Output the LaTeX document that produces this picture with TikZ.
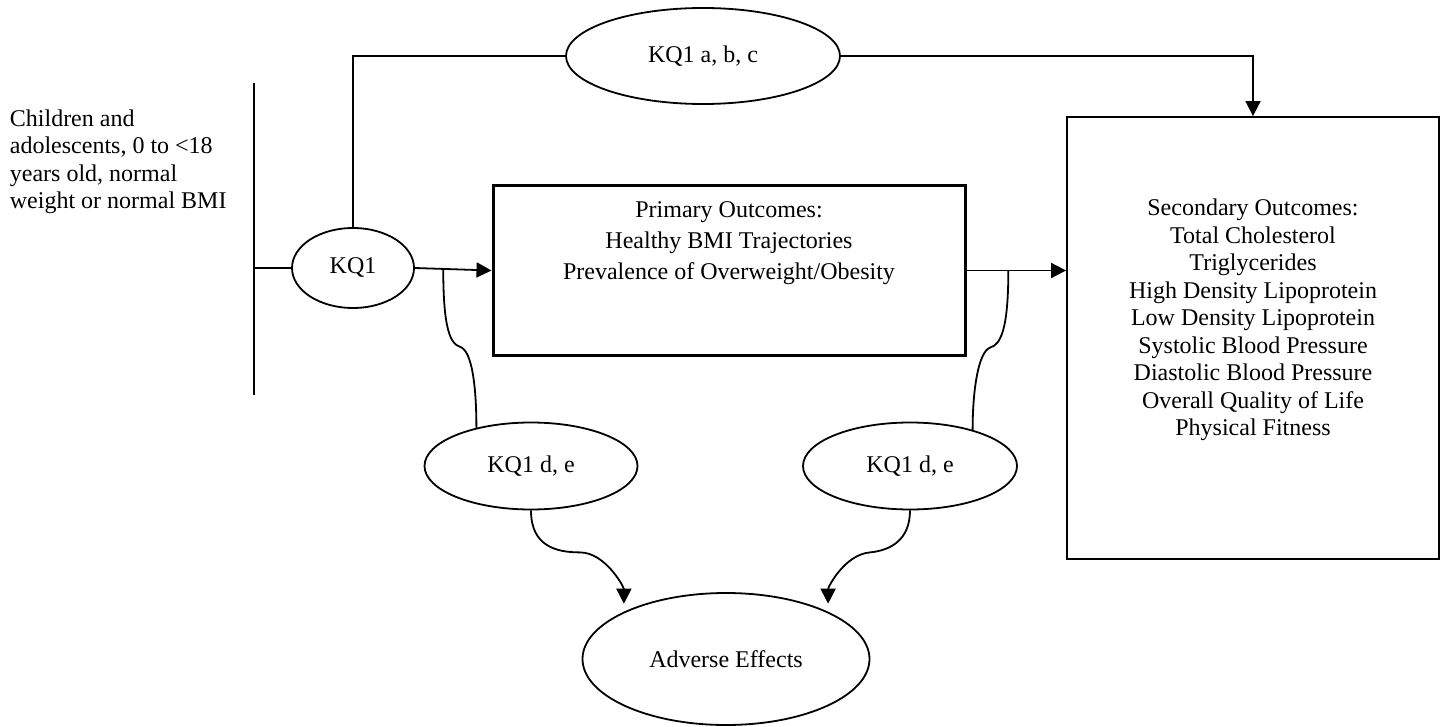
\documentclass[tikz,border=0pt]{standalone}
\usepackage{fontspec}
\setmainfont{Liberation Serif}
\usetikzlibrary{arrows.meta,positioning,calc,shapes.geometric}

\begin{document}
\begin{tikzpicture}[
  x=0.5pt, y=-0.5pt,
  font=\fontsize{12pt}{13.75pt}\selectfont,
  line width=0.9pt,
  oval/.style={draw, ellipse, inner sep=0pt, align=center},
  outbox/.style={draw, rectangle, inner sep=0pt},
  boxtext/.style={align=center, inner sep=0pt},
  arrow/.style={-{Triangle[length=7.5pt, width=7.5pt]}}
]
\useasboundingbox (0,0) rectangle (1445,727);

\node[align=left, anchor=west, inner sep=0pt] (pop) at (9,162) {Children and\\adolescents, 0 to <18\\years old, normal\\weight or normal BMI};
\coordinate (bartop) at (254,83);
\coordinate (barbot) at (254,395);

\node[oval, minimum width=61pt, minimum height=40pt] (kq1) at (353,268) {KQ1};
\node[oval, minimum width=137pt, minimum height=48pt] (kqabc) at (703,56) {KQ1 a, b, c};
\node[outbox, line width=1.5pt, minimum width=236pt, minimum height=84.5pt] (prim) at (729,270.5) {};
\node[boxtext, font=\fontsize{12pt}{15.5pt}\selectfont] (primtxt) at (729,243) {Primary Outcomes:\\Healthy BMI Trajectories\\Prevalence of Overweight/Obesity};
\node[outbox, minimum width=186pt, minimum height=221pt] (sec) at (1253,338) {};
\node[boxtext] (sectxt) at (1253,320) {Secondary Outcomes:\\Total Cholesterol\\Triglycerides\\High Density Lipoprotein\\Low Density Lipoprotein\\Systolic Blood Pressure\\Diastolic Blood Pressure\\Overall Quality of Life\\Physical Fitness};
\node[oval, minimum width=106.5pt, minimum height=43.5pt] (kqdeL) at (531,466) {KQ1 d, e};
\node[oval, minimum width=107pt, minimum height=43.5pt] (kqdeR) at (910,466) {KQ1 d, e};
\node[oval, minimum width=143.5pt, minimum height=66pt] (adv) at (726,659) {Adverse Effects};

% population bar and key question 1
\draw (bartop) -- (barbot);
\draw (kq1.west) -- (kq1.west -| bartop);
\draw (kq1.north) |- (kqabc.west);
\draw[arrow] (kqabc.east) -| (sec.north);
\draw[arrow] (kq1.east) -- (prim.west);
\draw[arrow] (prim.east) -- (prim.east -| sec.west);

% harms
\coordinate (tapL) at ($(kq1.east)!0.37!(prim.west)$);
\coordinate (tapR) at ($(prim.east)!0.42!(prim.east -| sec.west)$);
\draw (tapL) .. controls +(0,60) and +(-10,-3) .. ++(17,78) .. controls +(12,4) and +(0,-40) .. (kqdeL.145);
\draw (tapR) .. controls +(0,60) and +(10,-3) .. ++(-18,77) .. controls +(-12,4) and +(0,-40) .. (kqdeR.30);
\draw[arrow, shorten >=4pt] (kqdeL.south) .. controls +(0,35) and +(-25,0) .. ++(49,42) .. controls +(25,0) and +(0,-25) .. (adv.north west);
\draw[arrow, shorten >=4pt] (kqdeR.south) .. controls +(0,30) and +(20,-2) .. ++(-40,42) .. controls +(-25,2) and +(0,-25) .. (adv.north east);
\end{tikzpicture}
\end{document}
